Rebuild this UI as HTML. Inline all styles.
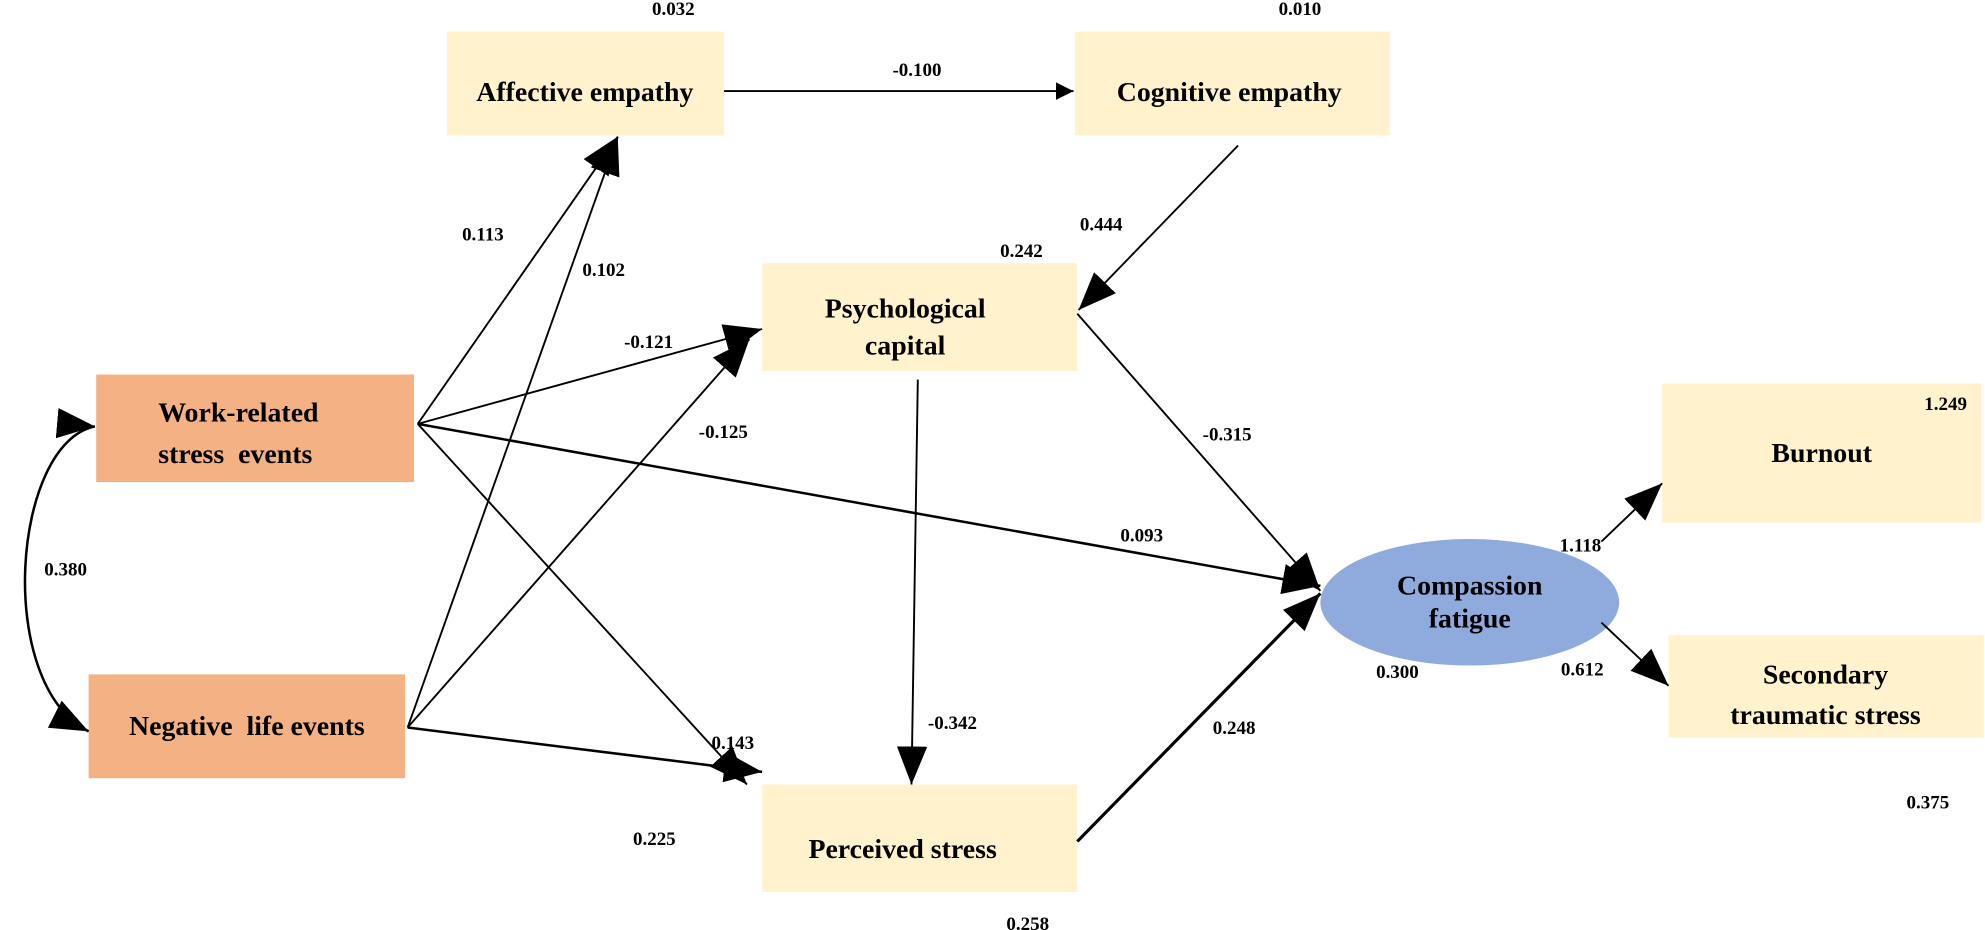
<!DOCTYPE html>
<html><head><meta charset="utf-8"><style>
html,body{margin:0;padding:0;background:#fff;}
svg{display:block;}
text{font-family:"Liberation Serif",serif;font-weight:bold;fill:#000;}
.n{font-size:22px;}
.l{font-size:15px;}
</style></head><body>
<svg width="1985" height="930" viewBox="0 0 1568 735" preserveAspectRatio="none" xmlns="http://www.w3.org/2000/svg">
<defs>
<marker id="a" viewBox="0 0 10 10" refX="10" refY="5" markerWidth="14" markerHeight="14" markerUnits="userSpaceOnUse" orient="auto"><path d="M0,0 L10,5 L0,10 z" fill="#000"/></marker>
<marker id="b" viewBox="0 0 10 10" refX="10" refY="5" markerWidth="30" markerHeight="30" markerUnits="userSpaceOnUse" orient="auto"><path d="M0,1 L10,5 L0,9 z" fill="#000"/></marker>
</defs>
<rect x="353" y="25" width="219" height="82" fill="#fff2cc"/>
<rect x="849" y="25" width="249" height="82" fill="#fff2cc"/>
<rect x="602" y="208" width="249" height="85" fill="#fff2cc"/>
<rect x="76" y="296" width="251" height="85" fill="#f4b183"/>
<rect x="70" y="533" width="250" height="82" fill="#f4b183"/>
<rect x="602" y="620" width="249" height="85" fill="#fff2cc"/>
<rect x="1313" y="303" width="252" height="110" fill="#fff2cc"/>
<rect x="1318" y="502" width="249" height="81" fill="#fff2cc"/>
<ellipse cx="1161" cy="476" rx="118" ry="50" fill="#8faadc"/>
<text class="n" x="462" y="80" text-anchor="middle">Affective empathy</text>
<text class="n" x="971" y="80" text-anchor="middle">Cognitive empathy</text>
<text class="n" x="715" y="251" text-anchor="middle">Psychological</text>
<text class="n" x="715" y="280" text-anchor="middle">capital</text>
<text class="n" x="125" y="333">Work-related</text>
<text class="n" x="125" y="366">stress&#160; events</text>
<text class="n" x="195" y="581" text-anchor="middle">Negative&#160; life events</text>
<text class="n" x="713" y="678" text-anchor="middle">Perceived stress</text>
<text class="n" x="1439" y="365" text-anchor="middle">Burnout</text>
<text class="n" x="1442" y="540" text-anchor="middle">Secondary</text>
<text class="n" x="1442" y="572" text-anchor="middle">traumatic stress</text>
<text class="n" x="1161" y="470" text-anchor="middle">Compassion</text>
<text class="n" x="1161" y="496" text-anchor="middle">fatigue</text>
<g stroke="#000" stroke-width="1.5" fill="none">
<path d="M572,72 L848,72" marker-end="url(#a)"/>
<path d="M978,115 L852,245" marker-end="url(#b)"/>
<path d="M330,335 L488,108" marker-end="url(#b)"/>
<path d="M330,335 L602,260" marker-end="url(#b)"/>
<path d="M330,335 L1043,463" stroke-width="2" marker-end="url(#b)"/>
<path d="M330,335 L590,620" marker-end="url(#b)"/>
<path d="M322,575 L488,108" marker-end="url(#b)"/>
<path d="M322,575 L592,268" marker-end="url(#b)"/>
<path d="M322,575 L602,610" stroke-width="2" marker-end="url(#b)"/>
<path d="M851,248 L1043,467" marker-end="url(#b)"/>
<path d="M725,300 L720,620" marker-end="url(#b)"/>
<path d="M851,665 L1043,469" stroke-width="2.5" marker-end="url(#b)"/>
<path d="M1265,428 L1313,382" marker-end="url(#b)"/>
<path d="M1265,492 L1318,542" marker-end="url(#b)"/>
<path d="M75,337 C10,350 -5,540 70,578" stroke-width="2" marker-end="url(#b)"/>
<path d="M70,578 C-5,560 -5,330 75,337" stroke-width="0" marker-end="url(#b)"/>
</g>
<text class="l" x="515" y="12">0.032</text>
<text class="l" x="1010" y="12">0.010</text>
<text class="l" x="705" y="60">-0.100</text>
<text class="l" x="853" y="182">0.444</text>
<text class="l" x="790" y="203">0.242</text>
<text class="l" x="365" y="190">0.113</text>
<text class="l" x="460" y="218">0.102</text>
<text class="l" x="493" y="275">-0.121</text>
<text class="l" x="552" y="346">-0.125</text>
<text class="l" x="950" y="348">-0.315</text>
<text class="l" x="885" y="428">0.093</text>
<text class="l" x="35" y="455">0.380</text>
<text class="l" x="1520" y="324">1.249</text>
<text class="l" x="1232" y="436">1.118</text>
<text class="l" x="1087" y="536">0.300</text>
<text class="l" x="1233" y="534">0.612</text>
<text class="l" x="1506" y="639">0.375</text>
<text class="l" x="733" y="576">-0.342</text>
<text class="l" x="562" y="592">0.143</text>
<text class="l" x="958" y="580">0.248</text>
<text class="l" x="500" y="668">0.225</text>
<text class="l" x="795" y="735">0.258</text>
</svg>
</body></html>
